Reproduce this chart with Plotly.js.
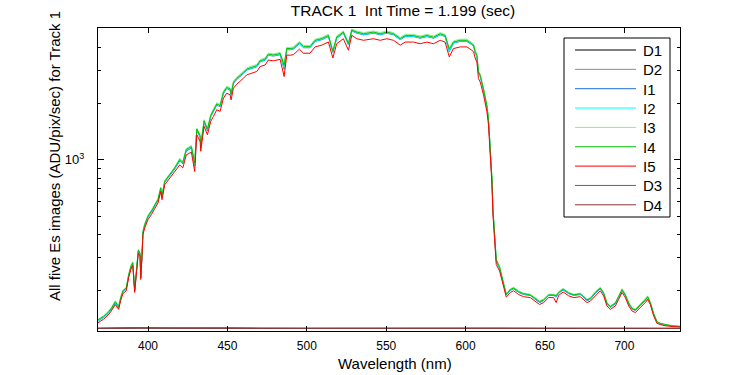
<!DOCTYPE html>
<html>
<head>
<meta charset="utf-8">
<script src="https://cdn.plot.ly/plotly-3.0.1.min.js"></script>
<style>html,body{margin:0;padding:0;background:#fff;}#chart{width:750px;height:375px;}</style>
</head>
<body>
<div id="chart"></div>
<script>
// ---------- data ----------
const wavelength = [
  368.5,370,372,374.8,376.9,379.4,381.5,382.8,384.2,386.3,
  387.8,389.5,390.4,391.6,392.9,393.9,395,395.4,396.2,396.8,
  397.9,400,402.1,404.2,406.3,408,408.8,410.5,413.7,416.8,
  420,421.9,424.1,427.3,429.4,430.7,432.8,433.2,435.3,437.4,
  439.5,441.2,443.3,445.4,447.5,449.6,451.7,452.3,453.8,455.9,
  458,460.1,462.2,465.3,468.5,470.6,473.7,475.8,479,483.2,
  485.7,487.4,489.5,491.6,493.7,495.3,497.9,502,505.2,509.5,
  513.6,516.4,518.8,523,526.2,528.3,531.5,535.7,542,546.2,
  550.4,554.6,558.8,562,567.2,571.4,575.6,579.8,584,587.1,
  589.7,592.4,596.6,600.8,603.9,605,606,607.1,608.1,609.2,
  611.3,613.4,614.4,615.5,616.6,617.2,618.2,619.3,621.4,622.9,
  624.3,625.6,628.1,630.2,633.4,636.5,640.7,643.9,646.6,649.1,
  652.3,655.4,657,658.6,661.4,664.9,668.1,672.2,674.3,676.4,
  678.5,681.7,684.8,686.9,689,691.1,694.3,696.4,698.5,700.6,
  702.7,704.8,706.9,710,713.2,714.6,716.3,718.4,720.5,722.6,
  725.8,730,735
];
const I1 = [
  138,140,144,151,159,172,162,182,197,204,
  240,270,278,200,270,325,312,235,306,407,
  446,494,525,570,607,698,631,758,824,893,
  987,951,1116,1155,930,1432,1320,1168,1587,1432,
  1703,1809,1963,1924,2265,2406,2359,2215,2560,2689,
  2777,2894,3016,3074,3143,3339,3403,3617,3583,3646,
  3050,3884,3873,3906,4045,4173,3970,3970,4291,4387,
  4554,3745,4462,4747,4120,4880,4747,4655,4747,4655,
  4747,4655,4387,4554,4554,4462,4554,4462,4655,4554,
  3780,4205,4291,4291,4120,4045,3745,3563,2910,2787,
  2350,1917,1627,1162,773,536,398,287,263,232,
  205,190,201,205,196,191,189,180,173,177,
  189,189,185,194,202,193,189,191,185,177,
  180,194,205,193,170,163,170,185,201,189,
  170,160,157,167,177,185,172,150,136,133,
  131,130,129
];
const I2 = [
  138,140,145,152,160,173,163,182,198,205,
  241,272,280,201,272,327,314,236,308,409,
  448,497,528,572,610,702,634,762,828,897,
  996,960,1127,1166,940,1446,1332,1179,1602,1446,
  1711,1818,1972,1933,2276,2418,2370,2226,2572,2702,
  2790,2907,3030,3089,3158,3355,3419,3634,3600,3664,
  3100,3902,3892,3924,4064,4193,3988,3988,4311,4408,
  4575,3763,4483,4769,4139,4900,4769,4676,4769,4676,
  4769,4676,4408,4575,4575,4483,4575,4483,4676,4575,
  3800,4225,4311,4311,4139,4064,3763,3580,2924,2800,
  2361,1925,1635,1173,780,541,402,290,265,234,
  206,191,202,206,197,192,190,181,174,178,
  190,190,186,195,203,194,190,192,185,178,
  181,195,206,194,171,164,171,185,202,190,
  171,161,158,168,178,185,173,150,136,134,
  131,130,129
];
const I3 = [
  141,143,147,155,163,177,166,186,202,209,
  246,277,285,205,277,333,320,240,314,417,
  457,506,538,583,621,715,647,776,844,915,
  1020,983,1153,1194,980,1480,1364,1207,1639,1480,
  1752,1861,2019,1978,2329,2474,2425,2278,2632,2765,
  2856,2976,3101,3161,3232,3434,3499,3719,3684,3750,
  3250,3993,3982,4015,4158,4290,4081,4081,4411,4510,
  4682,3850,4587,4880,4235,4990,4880,4785,4880,4785,
  4880,4785,4510,4682,4682,4587,4682,4587,4785,4682,
  3950,4323,4411,4411,4235,4158,3850,3663,2992,2866,
  2417,1971,1673,1207,802,556,410,296,270,238,
  209,193,205,209,200,194,192,184,177,181,
  192,192,190,198,206,196,192,194,188,181,
  184,198,209,196,173,166,173,188,205,192,
  173,163,160,170,181,188,175,152,137,134,
  132,131,129
];
const I4 = [
  140,142,146,153,161,175,165,184,200,207,
  243,274,283,203,274,330,317,238,311,413,
  452,502,533,578,616,709,641,769,836,906,
  1006,969,1137,1177,960,1459,1345,1190,1617,1459,
  1728,1835,1991,1951,2297,2440,2392,2247,2596,2727,
  2817,2935,3058,3118,3187,3386,3451,3668,3634,3698,
  3200,3939,3928,3960,4101,4232,4025,4025,4351,4449,
  4618,3798,4524,4813,4177,4940,4813,4720,4813,4720,
  4813,4720,4449,4618,4618,4524,4618,4524,4720,4618,
  3900,4264,4351,4351,4177,4101,3798,3613,2951,2826,
  2383,1944,1650,1184,788,546,406,292,267,236,
  207,191,203,207,198,193,190,182,175,179,
  190,190,188,196,204,195,190,193,186,179,
  182,196,207,195,172,165,172,186,203,190,
  172,161,158,169,179,186,173,151,137,134,
  132,130,129
];
const I5 = [
  135,137,141,148,156,169,159,178,193,200,
  235,265,273,196,265,319,306,230,300,399,
  433,480,510,553,589,678,613,736,800,867,
  940,906,1063,1100,867,1364,1257,1112,1511,1364,
  1607,1707,1852,1815,2137,2270,2225,2090,2415,2537,
  2620,2730,2845,2900,2965,3150,3210,3412,3380,3440,
  2785,3630,3620,3650,3780,3900,3710,3710,4010,4100,
  4256,3500,4170,4436,3850,4624,4436,4350,4436,4350,
  4436,4350,4100,4256,4256,4170,4256,4170,4350,4256,
  3550,3930,4010,4010,3850,3780,3500,3330,2720,2605,
  2217,1808,1535,1107,736,510,383,276,255,225,
  200,185,196,200,191,186,184,176,169,173,
  184,184,173,189,197,188,184,186,180,173,
  176,189,200,188,166,159,166,180,196,184,
  166,156,153,163,173,180,169,147,134,132,
  130,129,128
];
const darkWavelength = [368.5,380,395,410,425,440,455,470,500,540,560,580,600,620,650,680,700,735];
const D1 = [126.2,126.8,127.0,126.5,126.9,126.3,126.6,126.1,126.0,126.4,126.2,126.5,126.3,126.1,126.0,126.2,126.1,126.0];
const D2 = [126.0,126.5,126.3,126.8,126.2,126.6,126.1,126.3,126.1,126.0,126.3,126.2,126.6,126.2,126.1,126.0,126.2,126.1];
const D3 = [125.9,126.4,126.9,126.3,126.5,126.1,126.4,126.2,125.9,126.2,126.5,126.1,126.2,126.4,126.0,125.9,126.0,125.9];
const D4 = [126.0,126.3,126.6,126.4,126.2,126.5,126.2,126.0,126.1,126.0,126.2,126.4,126.1,126.0,126.1,126.0,125.9,126.0];

const seriesNames  = ['D1','D2','I1','I2','I3','I4','I5','D3','D4'];
const seriesColors = ['#000000','#8c8c8c','#1e6fd6','#00ffff','#90ee90','#00c000','#ff0000','#7f5a5a','#8b3535'];
const xTickVals = [400,450,500,550,600,650,700];
const yTickVals = [1000];
const yTickText = ['10<sup>3</sup>'];
const yMinorTickVals = [200,300,400,500,600,700,800,900,2000,3000,4000,5000];
const titleText = 'TRACK 1&nbsp;&nbsp;Int Time = 1.199 (sec)';
const xLabel = 'Wavelength (nm)';
const yLabel = 'All five Es images (ADU/pix/sec) for Track 1';

// ---------- build ----------
const seriesData = {
  D1: [darkWavelength, D1], D2: [darkWavelength, D2],
  I1: [wavelength, I1], I2: [wavelength, I2], I3: [wavelength, I3],
  I4: [wavelength, I4], I5: [wavelength, I5],
  D3: [darkWavelength, D3], D4: [darkWavelength, D4]
};
const traces = seriesNames.map((n, i) => ({
  type: 'scatter', mode: 'lines', name: n,
  x: seriesData[n][0], y: seriesData[n][1],
  line: {color: seriesColors[i], width: 1},
  showlegend: false, hoverinfo: 'skip'
}));

const FONT = 'Liberation Sans, Arial, sans-serif';
const W = 750, H = 375;
const M = {l: 98, r: 70, t: 28, b: 44};
const pw = W - M.l - M.r, ph = H - M.t - M.b;
const px2x = p => (p - M.l) / pw;
const py2y = p => (H - M.b - p) / ph;

const shapes = [];
const annotations = [];
// legend box
shapes.push({type: 'rect', xref: 'paper', yref: 'paper',
  x0: px2x(564), x1: px2x(670), y0: py2y(217), y1: py2y(38),
  line: {color: '#000', width: 1}, fillcolor: '#fff', layer: 'above'});
seriesNames.forEach((n, i) => {
  const py = 50 + i * 19.35;
  shapes.push({type: 'line', xref: 'paper', yref: 'paper',
    x0: px2x(575), x1: px2x(636), y0: py2y(py), y1: py2y(py),
    line: {color: seriesColors[i], width: 1}, layer: 'above'});
  annotations.push({xref: 'paper', yref: 'paper', x: px2x(641), y: py2y(py + 0.5),
    xanchor: 'left', yanchor: 'middle', showarrow: false, text: n,
    font: {family: FONT, size: 15, color: '#000'}});
});
// axis labels
annotations.push({xref: 'paper', yref: 'paper', x: px2x(395), y: py2y(363),
  xanchor: 'center', yanchor: 'middle', showarrow: false, text: xLabel,
  font: {family: FONT, size: 15, color: '#000'}});
annotations.push({xref: 'paper', yref: 'paper', x: px2x(54), y: py2y(156),
  xanchor: 'center', yanchor: 'middle', showarrow: false, text: yLabel, textangle: -90,
  font: {family: FONT, size: 15, color: '#000'}});

const layout = {
  width: W, height: H,
  margin: M,
  paper_bgcolor: '#fff', plot_bgcolor: '#fff',
  font: {family: FONT, size: 12, color: '#000'},
  title: {text: titleText, font: {family: FONT, size: 15.5, color: '#000'},
    xref: 'container', yref: 'container', x: 403 / W, y: 1 - 11 / H,
    xanchor: 'center', yanchor: 'middle'},
  showlegend: false,
  xaxis: {
    range: [368.5, 735], showgrid: false, zeroline: false,
    showline: true, linecolor: '#000', linewidth: 1, mirror: 'ticks',
    ticks: 'inside', ticklen: 5, tickcolor: '#000', tickwidth: 1,
    tickmode: 'array', tickvals: xTickVals, ticklabelstandoff: 4,
    tickfont: {family: FONT, size: 12, color: '#000'}
  },
  yaxis: {
    type: 'log', range: [Math.log10(122), Math.log10(5060)],
    showgrid: false, zeroline: false,
    showline: true, linecolor: '#000', linewidth: 1, mirror: 'ticks',
    ticks: 'inside', ticklen: 6, tickcolor: '#000', tickwidth: 1,
    tickmode: 'array', tickvals: yTickVals, ticktext: yTickText,
    ticklabelstandoff: 10,
    tickfont: {family: FONT, size: 13, color: '#000'},
    minor: {tickmode: 'array', tickvals: yMinorTickVals, ticks: 'inside', ticklen: 3,
      tickcolor: '#000', tickwidth: 1, showgrid: false}
  },
  shapes: shapes,
  annotations: annotations
};

Plotly.newPlot('chart', traces, layout, {displayModeBar: false, staticPlot: true});
</script>
</body>
</html>
